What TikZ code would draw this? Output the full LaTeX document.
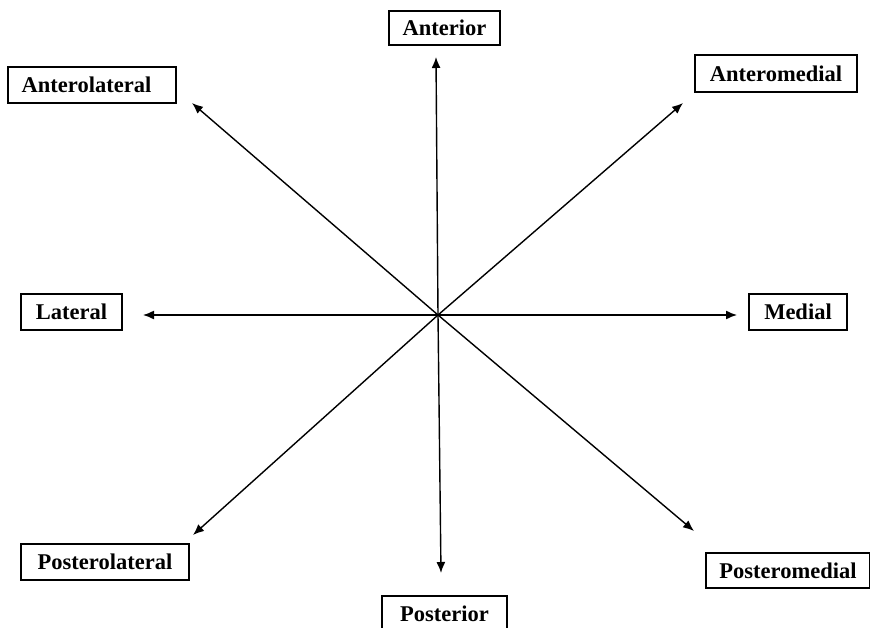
\documentclass[tikz,border=0pt]{standalone}
\usepackage{fontspec}
\setmainfont{Liberation Serif}
\usetikzlibrary{arrows.meta}
\begin{document}
\begin{tikzpicture}[x=1pt,y=-1pt,
  lbl/.style={draw=black, line width=1.3pt, rectangle, inner sep=0pt,
    font=\fontsize{22.5}{26}\selectfont\bfseries, minimum height=36pt},
  ray/.style={line width=1.4pt, -{Latex[length=11pt,width=9pt]}}]
\useasboundingbox (0,0) rectangle (870,627);
\clip (0,0) rectangle (870,627);
\node[lbl, minimum width=111pt, minimum height=34pt] (ant) at (444.5,28) {Anterior};
\node[lbl, minimum width=168pt] (antlat) at (92,85) {\hspace*{-11pt}Anterolateral};
\node[lbl, minimum width=162pt, minimum height=37pt] (antmed) at (776,73.5) {Anteromedial};
\node[lbl, minimum width=101pt] (lat) at (71.5,312) {Lateral};
\node[lbl, minimum width=98pt] (med) at (798,312) {Medial};
\node[lbl, minimum width=168pt] (postlat) at (105,562) {Posterolateral};
\node[lbl, minimum width=164pt, minimum height=35pt] (postmed) at (788,570.5) {Posteromedial};
\node[lbl, minimum width=125pt] (post) at (444.5,614) {Posterior};
\coordinate (c) at (438,315);
\coordinate (tA) at (436,57);
\coordinate (tAL) at (192,103);
\coordinate (tAM) at (683,103);
\coordinate (tL) at (143,315);
\coordinate (tM) at (737,315);
\coordinate (tPL) at (193,535);
\coordinate (tPM) at (694,531);
\coordinate (tP) at (441,573);
\foreach \t in {tA,tAL,tAM,tL,tM,tPL,tPM,tP}
  \draw[ray] (c) -- (\t);
\end{tikzpicture}
\end{document}
